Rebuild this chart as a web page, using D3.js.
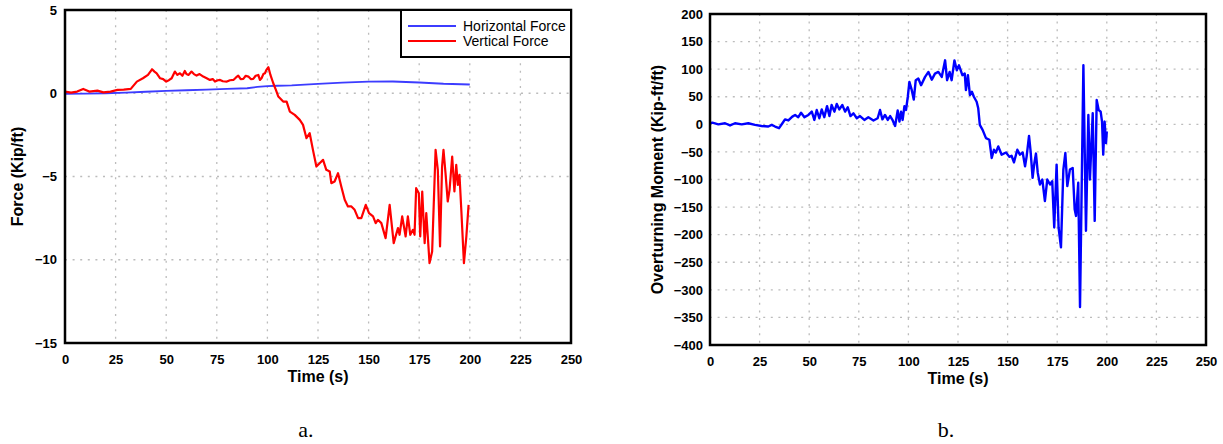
<!DOCTYPE html>
<html>
<head>
<meta charset="utf-8">
<script src="https://cdn.jsdelivr.net/npm/d3@7"></script>
<style>
  body { margin: 0; background: #fff; }
  svg { display: block; font-family: "Liberation Sans", Arial, sans-serif; }
</style>
</head>
<body>
<svg id="svg" width="1223" height="444"></svg>
<script>
// tick labels
var timeTicks = [0, 25, 50, 75, 100, 125, 150, 175, 200, 225, 250];
var forceTicks = [-15, -10, -5, 0, 5];
var momentTicks = [-400, -350, -300, -250, -200, -150, -100, -50, 0, 50, 100, 150, 200];

// panel a - vertical force (Kip/ft)
var vertTime = [
  0, 3, 6, 9, 12, 16, 19, 22.5, 26, 29,
  32.5, 35.5, 38.5,
  41, 43, 44.2, 45.3, 47, 48.5, 50, 51.5, 52.7, 54.3,
  55.5, 56.8, 58, 59.2, 60, 61, 62.5, 63.7, 65, 66.5,
  68.3, 70, 71.6, 73, 74.1, 75.5, 76.6, 78, 80, 81.5,
  83.2, 84.5, 85.6, 86.8, 88.1, 89.3, 90.6, 91.8, 93, 94.2,
  95.5, 96.3, 97.1, 98, 98.8, 99.5, 100.5,
  101.5, 102.9, 104.2, 105.4, 107.8, 109.5, 111.1, 113.5, 116, 117.6,
  119.3, 120.9, 122.5, 124.2, 125.8, 127.5, 129.1, 130.8, 131.6, 133.2,
  134.9, 136.5, 138.2, 139.8, 141.5, 143.1, 144.8, 146.4, 148.6, 150.2,
  152.2, 153.5, 154.6, 156.3, 158.4, 160.4, 162.4, 164.5, 165.3, 166.6,
  168.3, 169.4, 170.6, 171.9, 172.7, 173.5, 174.8, 175.5, 176.5, 177.7,
  178.5, 180.1, 181.4, 183.1, 184.2, 185.3, 186.3, 187, 188, 189.1,
  190, 191.3, 192.4, 193.3, 194.1, 194.9, 195.8, 197.1, 198.3, 199.4
];
var vertForce = [
  0.1, 0.04, 0.1, 0.26, 0.1, 0.16, 0.05, 0.1, 0.2, 0.22,
  0.26, 0.7, 0.9,
  1.1, 1.44, 1.3, 1.2, 0.9, 0.85, 0.7, 0.8, 0.9, 1.3,
  1.1, 1.2, 1.05, 1.34, 1.15, 1.1, 1.3, 1.15, 1.06, 1.15,
  1.0, 0.9, 0.8, 0.85, 0.7, 0.78, 0.8, 0.72, 0.7, 0.78,
  0.8, 0.95, 1.06, 0.85, 0.86, 1.05, 1.0, 0.85, 0.86, 1.05,
  1.1, 0.8, 0.9, 1.15, 1.2, 1.4, 1.56,
  1.1, 0.6, 0.2, -0.2, -0.5, -0.5, -1.1, -1.3, -1.6, -1.9,
  -2.7, -2.4, -3.4, -4.4, -4.2, -4.0, -4.6, -4.7, -5.4, -5.3,
  -4.8, -5.6, -6.4, -6.8, -6.8, -7.0, -7.5, -7.5, -6.7, -7.2,
  -7.4, -7.8, -7.6, -7.8, -8.7, -6.7, -9.0, -8.1, -8.5, -7.4,
  -8.6, -7.4, -8.5, -8.2, -8.5, -5.7, -6.0, -8.6, -5.9, -9.0,
  -7.2, -10.2, -9.5, -3.4, -4.6, -9.2, -4.4, -3.4, -4.8, -6.5,
  -5.8, -3.8, -5.9, -4.3, -5.5, -4.9, -7.0, -10.2, -8.6, -6.7
];

// panel a - horizontal force (Kip/ft)
var horizTime = [0, 10, 20, 30, 40, 50, 60, 70, 80, 90, 95, 100, 105, 112, 125, 137, 150, 162, 175, 187, 200];
var horizForce = [-0.04, -0.02, 0.0, 0.04, 0.09, 0.14, 0.18, 0.22, 0.26, 0.3, 0.38, 0.43, 0.45, 0.47, 0.56, 0.64, 0.7, 0.71, 0.65, 0.57, 0.53];

// panel b - overturning moment (Kip-ft/ft)
var momentTime = [
  0, 1.2, 4.2, 7.6, 10.1, 12.6, 16, 19.3, 22.7, 26,
  29.4, 31.1, 32.8, 34.8, 36.5, 37.8, 39.5, 41.5, 42.9, 44.5,
  45.9, 47.6, 49.6, 51.3, 52.6, 53.8, 55.1, 56.3, 57.6, 59,
  60.2, 61.3, 62.7, 63.9, 65.2, 66.7, 68.1, 69.4, 70.8, 72.3,
  74, 75.6, 77.8, 79.8, 82.4, 84.5, 85.7, 86.9, 88.2, 89.6,
  90.8, 92.1, 93.3, 94.6, 95.5, 96.3, 97.1, 98, 98.8, 99.7,
  100.5, 101.7, 102.7, 103.7, 105, 106.4, 108.4, 110.1, 111.8, 113.4,
  115.1, 116.8, 118.5, 119.5, 120.8, 121.8, 123.2, 124.4, 125.5, 127.2,
  128.4, 129, 130, 131, 132, 133, 134.4, 135.2, 136, 137.4,
  139.1, 140.8, 142, 143.1, 144.1, 145.3, 147, 149.2, 150.9, 152,
  153.2, 154.9, 156.2, 157.6, 158.8, 159.6, 160.8, 161.6, 162.6, 163.5,
  164.3, 165.2, 166.3, 167.5, 168.8, 170, 171.4, 172.5, 173.5, 174.7,
  175.7, 176.9, 178.1, 179.1, 180.1, 181.4, 182.8, 183.8, 184.5, 185.6,
  186.5, 188.2, 189.5, 190.7, 191.5, 192.9, 193.9, 194.9, 195.9, 196.9,
  197.6, 198.2, 198.9, 199.6, 200
];
var moment = [
  2, 3, 0, 2, -2, 2, 0, 2, -1, -3,
  -4, -1, -4, -7, 2, 9, 7, 14, 17, 13,
  21, 13, 17, 23, 8, 26, 11, 27, 13, 33,
  15, 35, 23, 37, 27, 35, 23, 31, 15, 20,
  11, 15, 8, 13, 7, 11, 26, 9, 17, 8,
  15, 7, -3, 25, 5, 23, 8, 33, 26, 50,
  77, 62, 45, 80, 83, 71, 86, 95, 81, 92,
  95, 86, 116, 80, 95, 80, 116, 98, 107, 89,
  92, 62, 89, 53, 59, 50, 41, 29, -1, -10,
  -25, -28, -61, -46, -51, -40, -55, -51, -59, -57,
  -69, -46, -55, -51, -76, -58, -21, -49, -97, -70,
  -53, -88, -109, -100, -139, -100, -109, -103, -187, -73,
  -187, -223, -82, -52, -112, -82, -79, -154, -166, -106,
  -331, 107, -193, 17, -100, 20, -175, 44, 26, 23,
  5, -55, 5, -34, -13
];

var svg = d3.select("#svg");
var font = '"Liberation Sans", Arial, sans-serif';

function Panel(opt) {
  var x = d3.scaleLinear().domain([0, 250]).range([opt.left, opt.right]);
  var y = d3.scaleLinear().domain([opt.yTicks[0], opt.yTicks[opt.yTicks.length - 1]])
    .range([opt.bottom, opt.top]);
  var g = svg.append("g");

  // dotted grid
  g.append("g").selectAll("line")
    .data(timeTicks.slice(1, -1))
    .enter().append("line")
    .attr("x1", d => x(d)).attr("x2", d => x(d))
    .attr("y1", opt.top).attr("y2", opt.bottom)
    .attr("stroke", "#bcbcbc").attr("stroke-width", 1.3)
    .attr("stroke-dasharray", "2,5.6");
  g.append("g").selectAll("line")
    .data(opt.yTicks.slice(1, -1))
    .enter().append("line")
    .attr("y1", d => y(d)).attr("y2", d => y(d))
    .attr("x1", opt.left).attr("x2", opt.right)
    .attr("stroke", "#bcbcbc").attr("stroke-width", 1.3)
    .attr("stroke-dasharray", "2,5.6");

  // tick labels
  var xAxis = g.append("g")
    .attr("transform", "translate(0," + opt.bottom + ")")
    .call(d3.axisBottom(x).tickValues(timeTicks).tickSize(0).tickPadding(12));
  var yAxis = g.append("g")
    .attr("transform", "translate(" + opt.left + ",0)")
    .call(d3.axisLeft(y).tickValues(opt.yTicks).tickSize(0).tickPadding(opt.yPad));
  [xAxis, yAxis].forEach(function (a) {
    a.select(".domain").remove();
    a.attr("font-family", font).attr("font-size", 13).attr("font-weight", "bold");
    a.selectAll("text").attr("fill", "#000");
  });

  // data lines
  opt.series.forEach(function (s) {
    var line = d3.line().x(d => x(d[0])).y(d => y(d[1]));
    g.append("path")
      .datum(d3.zip(s.t, s.v))
      .attr("d", line)
      .attr("fill", "none")
      .attr("stroke", s.color)
      .attr("stroke-width", s.width)
      .attr("stroke-linejoin", "round");
  });

  // frame
  g.append("rect")
    .attr("x", opt.left).attr("y", opt.top)
    .attr("width", opt.right - opt.left).attr("height", opt.bottom - opt.top)
    .attr("fill", "none").attr("stroke", "#000").attr("stroke-width", 2.5);

  // axis titles
  g.append("text")
    .attr("x", (opt.left + opt.right) / 2).attr("y", opt.bottom + 39)
    .attr("text-anchor", "middle").attr("font-size", 16).attr("font-weight", "bold")
    .text("Time (s)");
  g.append("text")
    .attr("transform", "translate(" + opt.yTitleX + "," + ((opt.top + opt.bottom) / 2) + ") rotate(-90)")
    .attr("text-anchor", "middle").attr("font-size", 16).attr("font-weight", "bold")
    .text(opt.yTitle);

  // caption
  g.append("text")
    .attr("x", opt.capX).attr("y", 437)
    .attr("text-anchor", "middle")
    .attr("font-family", '"Liberation Serif", "Times New Roman", serif')
    .attr("font-size", 22)
    .text(opt.caption);

  return g;
}

var gA = Panel({
  left: 65, right: 571, top: 10, bottom: 343, yPad: 8,
  yTicks: forceTicks, yTitle: "Force (Kip/ft)", yTitleX: 23,
  caption: "a.", capX: 306,
  series: [
    { t: horizTime, v: horizForce, color: "#3c3cff", width: 1.9 },
    { t: vertTime, v: vertForce, color: "#ff0000", width: 2.2 }
  ]
});

Panel({
  left: 710, right: 1206, top: 14, bottom: 345, yPad: 7,
  yTicks: momentTicks, yTitle: "Overturning Moment (Kip-ft/ft)", yTitleX: 663,
  caption: "b.", capX: 946,
  series: [
    { t: momentTime, v: moment, color: "#0000ff", width: 2.4 }
  ]
});

// legend of panel a
var legendItems = [
  { name: "Horizontal Force", color: "#3c3cff" },
  { name: "Vertical Force", color: "#ff0000" }
];
var legend = gA.append("g");
legend.append("rect")
  .attr("x", 401).attr("y", 10).attr("width", 170).attr("height", 47)
  .attr("fill", "#fff").attr("stroke", "#000").attr("stroke-width", 2);
var item = legend.selectAll("g.item")
  .data(legendItems)
  .enter().append("g")
  .attr("class", "item")
  .attr("transform", (d, i) => "translate(0," + (26 + i * 15) + ")");
item.append("line")
  .attr("x1", 408).attr("x2", 456)
  .attr("stroke", d => d.color).attr("stroke-width", 2);
item.append("text")
  .attr("x", 463).attr("dy", "0.35em")
  .attr("font-size", 14)
  .text(d => d.name);
</script>
</body>
</html>
